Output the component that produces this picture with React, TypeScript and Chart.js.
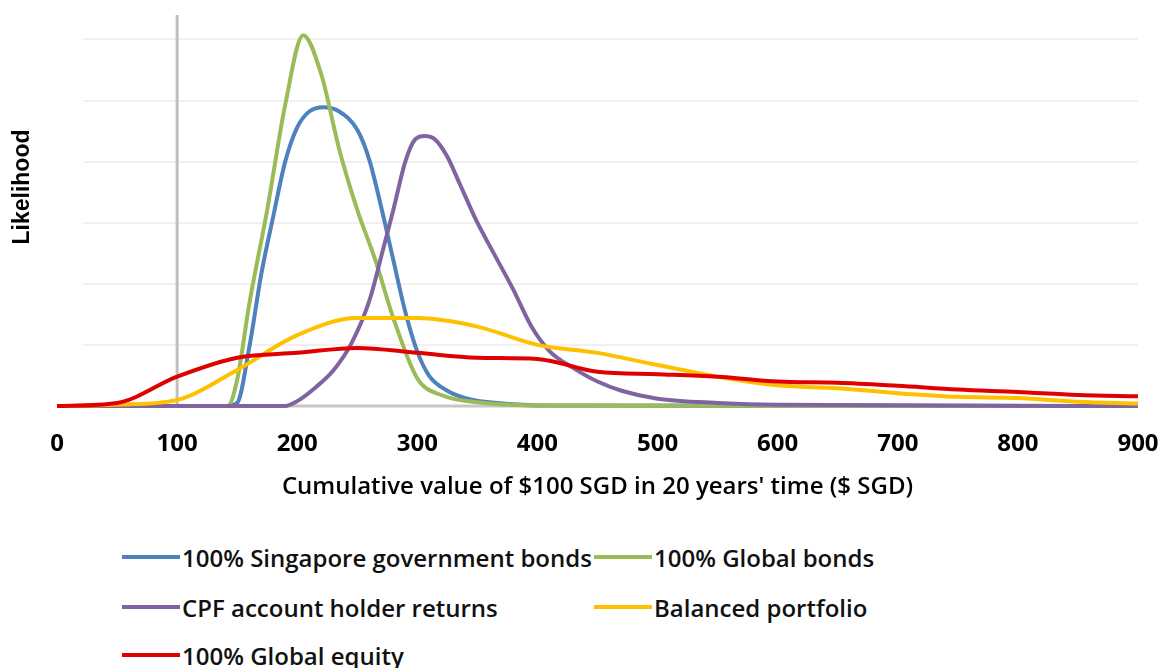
import React, { useEffect, useRef } from 'react';
import { Chart, registerables } from 'chart.js';

Chart.register(...registerables);

// ---------- data ----------
const xTickValues = [0, 100, 200, 300, 400, 500, 600, 700, 800, 900];
const gridValues = [1, 2, 3, 4, 5, 6];
const referenceValue = 100;
const gridStartValue = 22;

const seriesNames = [
  '100% Singapore government bonds',
  '100% Global bonds',
  'CPF account holder returns',
  'Balanced portfolio',
  '100% Global equity',
];
const seriesColors = ['#4F81BD', '#9BBB59', '#8064A2', '#FFC000', '#E00000'];

const sgBondsX = [0, 140, 150, 160, 170, 180, 190, 200, 210, 222, 235, 250, 260, 270, 280, 290, 300, 310, 325, 340, 360, 400, 900];
const sgBondsY = [0, 0, 0.05, 0.95, 2.15, 3.1, 4.0, 4.56, 4.82, 4.89, 4.82, 4.52, 4.03, 3.25, 2.39, 1.54, 0.89, 0.49, 0.25, 0.13, 0.06, 0.01, 0];

const globalBondsX = [0, 125, 142, 150, 160, 175, 190, 205, 220, 235, 250, 265, 280, 300, 320, 350, 400, 900];
const globalBondsY = [0, 0, 0, 0.43, 1.66, 3.21, 4.93, 6.07, 5.43, 4.2, 3.21, 2.39, 1.44, 0.45, 0.18, 0.06, 0.01, 0];

const cpfX = [0, 190, 200, 215, 230, 245, 260, 270, 280, 290, 298, 306, 315, 325, 335, 350, 365, 380, 395, 410, 430, 450, 470, 500, 550, 600, 900];
const cpfY = [0, 0, 0.08, 0.3, 0.58, 1.02, 1.72, 2.45, 3.21, 4.0, 4.36, 4.42, 4.36, 4.08, 3.65, 3.0, 2.45, 1.9, 1.3, 0.9, 0.62, 0.4, 0.25, 0.12, 0.05, 0.02, 0];

const broadX = [0, 50, 100, 150, 200, 250, 300, 350, 400, 450, 500, 550, 600, 650, 700, 750, 800, 850, 900];
const balancedY = [0, 0.02, 0.1, 0.59, 1.16, 1.44, 1.44, 1.3, 1.0, 0.87, 0.67, 0.48, 0.34, 0.29, 0.21, 0.15, 0.13, 0.07, 0.04];
const equityY = [0, 0.05, 0.48, 0.79, 0.87, 0.95, 0.87, 0.79, 0.77, 0.56, 0.52, 0.48, 0.4, 0.38, 0.33, 0.27, 0.23, 0.18, 0.16];

const yAxisTitle = 'Likelihood';
const xAxisTitle = "Cumulative value of $100 SGD in 20 years' time ($ SGD)";

const toPoints = (xs: number[], ys: number[]) => xs.map((x, i) => ({ x, y: ys[i] }));

const decorPlugin = {
  id: 'decor',
  beforeDatasetsDraw(chart: any) {
    const { ctx, chartArea, scales } = chart;
    const xs = scales.x;
    const ys = scales.y;
    ctx.save();
    const x0 = xs.getPixelForValue(gridStartValue);
    const x1 = xs.getPixelForValue(900);
    ctx.strokeStyle = '#ebebeb';
    ctx.lineWidth = 1.5;
    gridValues.forEach((v) => {
      const py = Math.round(ys.getPixelForValue(v));
      ctx.beginPath();
      ctx.moveTo(x0, py);
      ctx.lineTo(x1, py);
      ctx.stroke();
    });
    const base = ys.getPixelForValue(0);
    ctx.strokeStyle = '#c6c6c6';
    ctx.lineWidth = 3;
    ctx.beginPath();
    ctx.moveTo(x0, base);
    ctx.lineTo(x1, base);
    ctx.stroke();
    const vx = xs.getPixelForValue(referenceValue);
    ctx.strokeStyle = '#bfbfbf';
    ctx.lineWidth = 3;
    ctx.beginPath();
    ctx.moveTo(vx, chartArea.top);
    ctx.lineTo(vx, base);
    ctx.stroke();
    ctx.restore();
  },
  afterDraw(chart: any) {
    const { ctx } = chart;
    ctx.save();
    ctx.translate(23, 187);
    ctx.rotate(-Math.PI / 2);
    ctx.font = 'bold 23px "Liberation Sans", Arial, sans-serif';
    ctx.fillStyle = '#000';
    ctx.textAlign = 'center';
    ctx.textBaseline = 'middle';
    ctx.fillText(yAxisTitle, 0, 0);
    ctx.restore();
  },
};

export default function App() {
  const canvasRef = useRef<HTMLCanvasElement>(null);

  useEffect(() => {
    const canvas = canvasRef.current!;
    const dataSets = [
      toPoints(sgBondsX, sgBondsY),
      toPoints(globalBondsX, globalBondsY),
      toPoints(cpfX, cpfY),
      toPoints(broadX, balancedY),
      toPoints(broadX, equityY),
    ];
    const chart = new Chart(canvas, {
      type: 'line',
      data: {
        datasets: dataSets.map((d, i) => ({
          label: seriesNames[i],
          data: d,
          borderColor: seriesColors[i],
          backgroundColor: seriesColors[i],
          borderWidth: 4,
          pointRadius: 0,
          fill: false,
          cubicInterpolationMode: 'monotone' as const,
          clip: false as any,
          order: 4 - i,
        })),
      },
      options: {
        animation: false,
        responsive: false,
        devicePixelRatio: 1,
        layout: { padding: { left: 57, right: 26, top: 15, bottom: 0 } },
        plugins: { legend: { display: false }, tooltip: { enabled: false } },
        scales: {
          x: {
            type: 'linear',
            min: 0,
            max: 900,
            afterBuildTicks: (scale: any) => {
              scale.ticks = xTickValues.map((v) => ({ value: v }));
            },
            afterFit: (scale: any) => {
              scale.height = 114;
            },
            ticks: {
              color: '#000',
              padding: 0,
              maxRotation: 0,
              font: { family: '"Open Sans", sans-serif', size: 24, weight: 'bold' },
            },
            grid: { display: false, drawTicks: true, tickLength: 24 },
            border: { display: false },
            title: {
              display: true,
              text: xAxisTitle,
              color: '#000',
              font: { family: '"Open Sans", sans-serif', size: 24, weight: 600 },
              padding: { top: 0, bottom: 18 },
            },
          },
          y: {
            display: false,
            min: 0,
            max: 6.4,
          },
        },
      },
      plugins: [decorPlugin],
    });
    return () => chart.destroy();
  }, []);

  const legendRows = [
    [0, 1],
    [2, 3],
    [4],
  ];
  const rowCenters = [557, 607, 655];
  const colLeft = [122, 594];

  return (
    <div style={{ position: 'fixed', left: 0, top: 0, width: 1164, height: 668, background: '#fff', overflow: 'hidden' }}>
      <canvas ref={canvasRef} width={1164} height={520} style={{ position: 'absolute', left: 0, top: 0, width: 1164, height: 520 }} />
      {legendRows.map((row, r) =>
        row.map((si, c) => (
          <div
            key={si}
            style={{
              position: 'absolute',
              left: colLeft[c],
              top: rowCenters[r] - 17,
              height: 34,
              display: 'flex',
              alignItems: 'center',
              fontFamily: '"Open Sans", sans-serif',
              fontWeight: 600,
              fontSize: 24,
              color: '#111',
              whiteSpace: 'nowrap',
            }}
          >
            <span style={{ display: 'inline-block', width: 58, height: 4, background: seriesColors[si], marginRight: 2 }} />
            <span>{seriesNames[si]}</span>
          </div>
        ))
      )}
    </div>
  );
}
